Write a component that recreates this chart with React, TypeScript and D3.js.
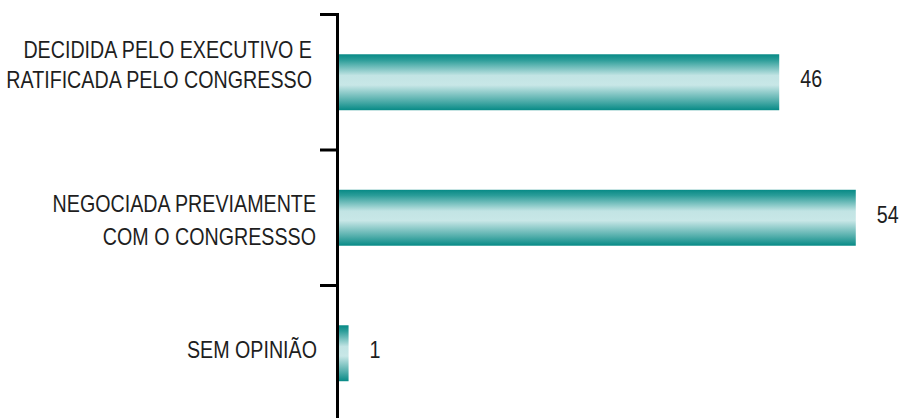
import React from "react";
import * as d3 from "d3";

const categories = ["cat1", "cat2", "cat3"];
const categoryLines = [
  ["DECIDIDA PELO EXECUTIVO E", "RATIFICADA PELO CONGRESSO"],
  ["NEGOCIADA PREVIAMENTE", "COM O CONGRESSSO"],
  ["SEM OPINIÃO"],
];
const values = [46, 54, 1];
const valueLabels = ["46", "54", "1"];

// layout (not data): baseline offsets of each label line from the band centre
const lineOffsets = [[-24, 6], [-5.5, 27.5], [4.5]];
const labelRight = [312, 316, 317];

const W = 906;
const H = 418;
const FONT = "'Liberation Sans', Arial, sans-serif";
const SX = 0.82;

function NarrowText(props: { x: number; y: number; anchor?: string; children: React.ReactNode }) {
  return (
    <text
      transform={`translate(${props.x},${props.y}) scale(${SX},1)`}
      textAnchor={props.anchor || "start"}
      fontFamily={FONT}
      fontSize={24}
      fill="#1e1e1e"
    >
      {props.children}
    </text>
  );
}

export default function App() {
  const axisX = 337.5;
  const y = d3.scaleBand<string>().domain(categories).range([14.5, 421]).padding(0);
  const x = d3.scaleLinear().domain([0, 60]).range([339, 339 + 9.57 * 60]);
  const barH = y.bandwidth() * 0.413;
  const ticks = [...categories.map((c) => y(c) as number), 421];

  return (
    <svg width={W} height={H} style={{ position: "absolute", left: 0, top: 0, background: "#fff" }}>
      <defs>
        <linearGradient id="barGrad" x1="0" y1="0" x2="0" y2="1">
          <stop offset="0%" stopColor="#078a86" />
          <stop offset="10%" stopColor="#2a9c98" />
          <stop offset="38%" stopColor="#c2e4e4" />
          <stop offset="55%" stopColor="#c8e7e7" />
          <stop offset="85%" stopColor="#4aaaa7" />
          <stop offset="100%" stopColor="#078a86" />
        </linearGradient>
      </defs>
      {categories.map((c, i) => {
        const cy = (y(c) as number) + y.bandwidth() / 2;
        const x0 = x(0);
        const x1 = x(values[i]);
        return (
          <g key={c}>
            <rect x={x0} y={cy - barH / 2} width={x1 - x0} height={barH} fill="url(#barGrad)" />
            <NarrowText x={x1 + 21} y={cy + 5}>
              {valueLabels[i]}
            </NarrowText>
            {categoryLines[i].map((line, j) => (
              <NarrowText key={j} x={labelRight[i]} y={cy + lineOffsets[i][j]} anchor="end">
                {line}
              </NarrowText>
            ))}
          </g>
        );
      })}
      <line x1={axisX} x2={axisX} y1={13} y2={H} stroke="#000" strokeWidth={3} />
      {ticks.map((t, i) => (
        <line key={i} x1={320} x2={339} y1={t} y2={t} stroke="#000" strokeWidth={3} />
      ))}
    </svg>
  );
}
